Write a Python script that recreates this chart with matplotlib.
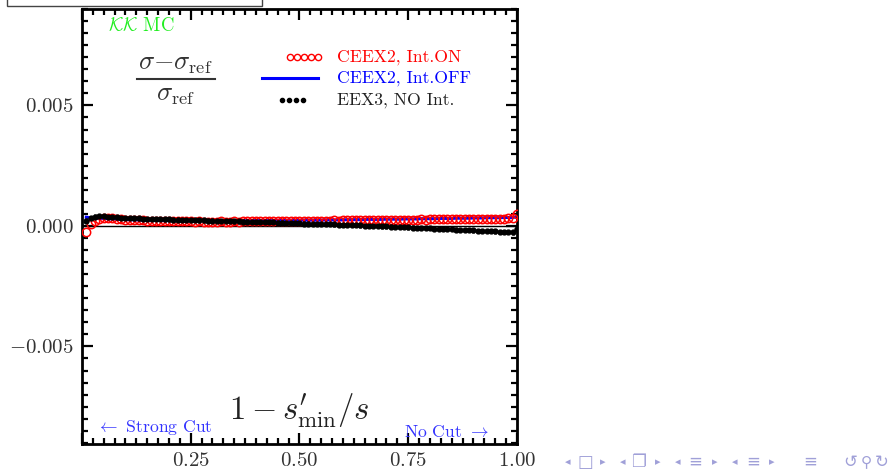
import matplotlib
matplotlib.use("Agg")
import matplotlib.pyplot as plt
import numpy as np
from matplotlib.patches import Rectangle
from matplotlib.ticker import MultipleLocator, FixedLocator

plt.rcParams['font.family'] = ['cmr10', 'DejaVu Sans']
plt.rcParams['mathtext.fontset'] = 'cm'
plt.rcParams['axes.unicode_minus'] = False

# x = 1 - s'_min/s
x = [0.01, 0.02, 0.03, 0.04, 0.05, 0.06, 0.07, 0.08, 0.09, 0.10,
     0.11, 0.12, 0.13, 0.14, 0.15, 0.16, 0.17, 0.18, 0.19, 0.20,
     0.21, 0.22, 0.23, 0.24, 0.25, 0.26, 0.27, 0.28, 0.29, 0.30,
     0.31, 0.32, 0.33, 0.34, 0.35, 0.36, 0.37, 0.38, 0.39, 0.40,
     0.41, 0.42, 0.43, 0.44, 0.45, 0.46, 0.47, 0.48, 0.49, 0.50,
     0.51, 0.52, 0.53, 0.54, 0.55, 0.56, 0.57, 0.58, 0.59, 0.60,
     0.61, 0.62, 0.63, 0.64, 0.65, 0.66, 0.67, 0.68, 0.69, 0.70,
     0.71, 0.72, 0.73, 0.74, 0.75, 0.76, 0.77, 0.78, 0.79, 0.80,
     0.81, 0.82, 0.83, 0.84, 0.85, 0.86, 0.87, 0.88, 0.89, 0.90,
     0.91, 0.92, 0.93, 0.94, 0.95, 0.96, 0.97, 0.98, 0.99, 1.00]

# values in units of 1e-4
ceex2_on = [-2.5, 0.6, 2.0, 3.0, 3.4, 3.3, 3.1, 2.9, 2.8, 2.6,
            2.5, 2.4, 2.3, 2.3, 2.2, 2.2, 2.1, 2.1, 2.0, 2.0,
            2.0, 1.9, 1.9, 1.9, 1.9, 1.8, 1.9, 1.8, 1.8, 1.8,
            1.8, 1.9, 1.8, 1.8, 1.9, 1.8, 1.9, 1.9, 1.9, 1.9,
            1.9, 2.0, 1.9, 2.0, 2.0, 2.0, 2.0, 2.1, 2.0, 2.1,
            2.1, 2.1, 2.2, 2.1, 2.2, 2.2, 2.2, 2.3, 2.2, 2.3,
            2.3, 2.3, 2.4, 2.3, 2.4, 2.4, 2.4, 2.5, 2.4, 2.5,
            2.5, 2.5, 2.6, 2.5, 2.6, 2.6, 2.6, 2.7, 2.6, 2.7,
            2.7, 2.7, 2.8, 2.7, 2.8, 2.8, 2.8, 2.9, 2.8, 2.9,
            2.9, 2.9, 3.0, 2.9, 3.0, 3.0, 3.0, 3.1, 3.1, 5.0]
ceex2_off = [3.6, 3.4, 3.3, 3.2, 3.1, 3.0, 2.9, 2.8, 2.7, 2.6,
             2.6, 2.5, 2.5, 2.4, 2.4, 2.3, 2.3, 2.3, 2.2, 2.2,
             2.2, 2.2, 2.1, 2.1, 2.1, 2.1, 2.1, 2.1, 2.1, 2.1,
             2.1, 2.1, 2.1, 2.1, 2.1, 2.1, 2.1, 2.2, 2.2, 2.2,
             2.2, 2.2, 2.2, 2.2, 2.3, 2.3, 2.3, 2.3, 2.3, 2.3,
             2.4, 2.4, 2.4, 2.4, 2.4, 2.5, 2.5, 2.5, 2.5, 2.5,
             2.6, 2.6, 2.6, 2.6, 2.7, 2.7, 2.7, 2.7, 2.7, 2.8,
             2.8, 2.8, 2.8, 2.9, 2.9, 2.9, 2.9, 3.0, 3.0, 3.0,
             3.0, 3.1, 3.1, 3.1, 3.1, 3.2, 3.2, 3.2, 3.2, 3.3,
             3.3, 3.3, 3.4, 3.4, 3.4, 3.4, 3.5, 3.5, 3.5, 3.8]
eex3 = [2.2, 3.4, 3.9, 4.1, 4.0, 3.8, 3.7, 3.5, 3.4, 3.3,
        3.2, 3.1, 3.1, 3.0, 2.9, 2.9, 2.8, 2.8, 2.7, 2.7,
        2.6, 2.6, 2.5, 2.5, 2.4, 2.4, 2.3, 2.3, 2.2, 2.2,
        2.1, 2.1, 2.0, 2.0, 1.9, 1.9, 1.8, 1.8, 1.7, 1.7,
        1.6, 1.6, 1.5, 1.5, 1.4, 1.4, 1.3, 1.2, 1.2, 1.1,
        1.0, 1.0, 0.9, 0.9, 0.8, 0.7, 0.7, 0.6, 0.5, 0.5,
        0.4, 0.3, 0.3, 0.2, 0.1, 0.1, 0.0, -0.1, -0.2, -0.2,
        -0.3, -0.4, -0.5, -0.5, -0.6, -0.7, -0.8, -0.8, -0.9, -1.0,
        -1.1, -1.2, -1.3, -1.3, -1.4, -1.5, -1.6, -1.7, -1.8, -1.9,
        -2.0, -2.0, -2.1, -2.2, -2.3, -2.4, -2.5, -2.6, -2.7, -1.2]

yticks = [-0.005, 0.0, 0.005]
ytick_labels = [r'$-0.005$', r'$0.000$', r'$0.005$']
xticks = [0.25, 0.50, 0.75, 1.00]
xtick_labels = [r'$0.25$', r'$0.50$', r'$0.75$', r'$1.00$']

xs = np.array(x)
on = np.array(ceex2_on) * 1e-4
off = np.array(ceex2_off) * 1e-4
ee = np.array(eex3) * 1e-4

fig = plt.figure(figsize=(8.93, 4.70), dpi=100)
ax = fig.add_axes([0.0918, 0.0553, 0.4871, 0.9255])

ax.axhline(0.0, color='black', lw=1.0, zorder=1)
ax.plot(xs, off, color='blue', lw=2.2, zorder=2)
ax.plot(xs, on, ls='none', marker='o', ms=6, mfc='none', mec='red', mew=1.1, zorder=3)
ax.errorbar(xs, ee, yerr=0.9e-4, xerr=0.004, fmt='o', ms=3.5, color='black',
            elinewidth=2.0, capsize=0, zorder=4)

ax.set_xlim(0.0, 1.0)
ax.set_ylim(-0.00905, 0.0090)
ax.xaxis.set_major_locator(FixedLocator([0.0] + xticks))
ax.set_xticklabels([''] + xtick_labels)
ax.set_yticks(yticks)
ax.set_yticklabels(ytick_labels)
ax.xaxis.set_minor_locator(MultipleLocator(0.025))
ax.yaxis.set_minor_locator(MultipleLocator(0.0005))
ax.tick_params(which='both', direction='in', top=True, right=True, colors='black',
               labelcolor='#333333', labelsize=15, width=1.6)
ax.tick_params(which='major', length=8, pad=6)
ax.tick_params(which='minor', length=4)
for s in ax.spines.values():
    s.set_linewidth(2.0)

# annotations
ax.text(0.060, 0.963, r'$\mathcal{KK}$ MC', transform=ax.transAxes, color='#22ee22',
        fontsize=13.5, va='center')
# fraction (sigma - sigma_ref)/sigma_ref in display style
ax.text(0.215, 0.860, r'$\sigma{-}\sigma_{\rm ref}$', transform=ax.transAxes,
        color='#333333', fontsize=19, ha='center', va='baseline')
ax.plot([0.127, 0.305], [0.838, 0.838], transform=ax.transAxes, color='#333333', lw=1.5)
ax.text(0.215, 0.790, r'$\sigma_{\rm ref}$', transform=ax.transAxes,
        color='#333333', fontsize=19, ha='center', va='baseline')

# legend drawn by hand
leg_y = [0.890, 0.841, 0.791]
ax.plot([0.478, 0.494, 0.510, 0.526, 0.542], [leg_y[0]] * 5, transform=ax.transAxes,
        ls='none', marker='o', ms=4.5, mfc='none', mec='red', mew=1.0)
ax.plot([0.414, 0.543], [leg_y[1]] * 2, transform=ax.transAxes, color='blue', lw=2.2)
ax.plot([0.460, 0.476, 0.492, 0.508], [leg_y[2]] * 4, transform=ax.transAxes,
        ls='none', marker='o', ms=3, color='black')
ax.text(0.586, leg_y[0], 'CEEX2, Int.ON', transform=ax.transAxes, color='red',
        fontsize=12.7, va='center')
ax.text(0.586, leg_y[1], 'CEEX2, Int.OFF', transform=ax.transAxes, color='blue',
        fontsize=12.7, va='center')
ax.text(0.586, leg_y[2], 'EEX3, NO Int.', transform=ax.transAxes, color='#222222',
        fontsize=12.7, va='center')

ax.text(0.50, 0.077, r"$1-s_{\rm min}^{\prime}/s$", transform=ax.transAxes, color='#222222',
        fontsize=23.5, ha='center', va='center')
ax.text(0.033, 0.038, r'$\leftarrow$ Strong Cut', transform=ax.transAxes, color='#3333ff',
        fontsize=12.7, va='center')
ax.text(0.740, 0.027, r'No Cut $\rightarrow$', transform=ax.transAxes, color='#3333ff',
        fontsize=12.7, va='center')

# frame piece at top left
fig.patches.append(Rectangle((7 / 893, 464 / 470), 255 / 893, 12 / 470, transform=fig.transFigure,
                             facecolor='white', edgecolor='#444444', lw=1.0, clip_on=False))

# beamer navigation symbols
nav = [(568, '◂', 8), (585, '□', 12), (603, '▸', 8), (623, '◂', 8), (638, '❐', 12),
       (658, '▸', 8), (678, '◂', 8), (695, '≡', 12), (715, '▸', 8), (735, '◂', 8),
       (753, '≡', 12), (772, '▸', 8), (810, '≡', 12), (850, '↺', 12), (866, '⚲', 11),
       (882, '↻', 12)]
for px, ch, fs in nav:
    fig.text(px / 893, 8 / 470, ch, color='#a0a0d8', fontsize=fs, ha='center', va='center',
             family=['DejaVu Sans', 'Noto Sans'])

fig.savefig('out.png', dpi=100)
